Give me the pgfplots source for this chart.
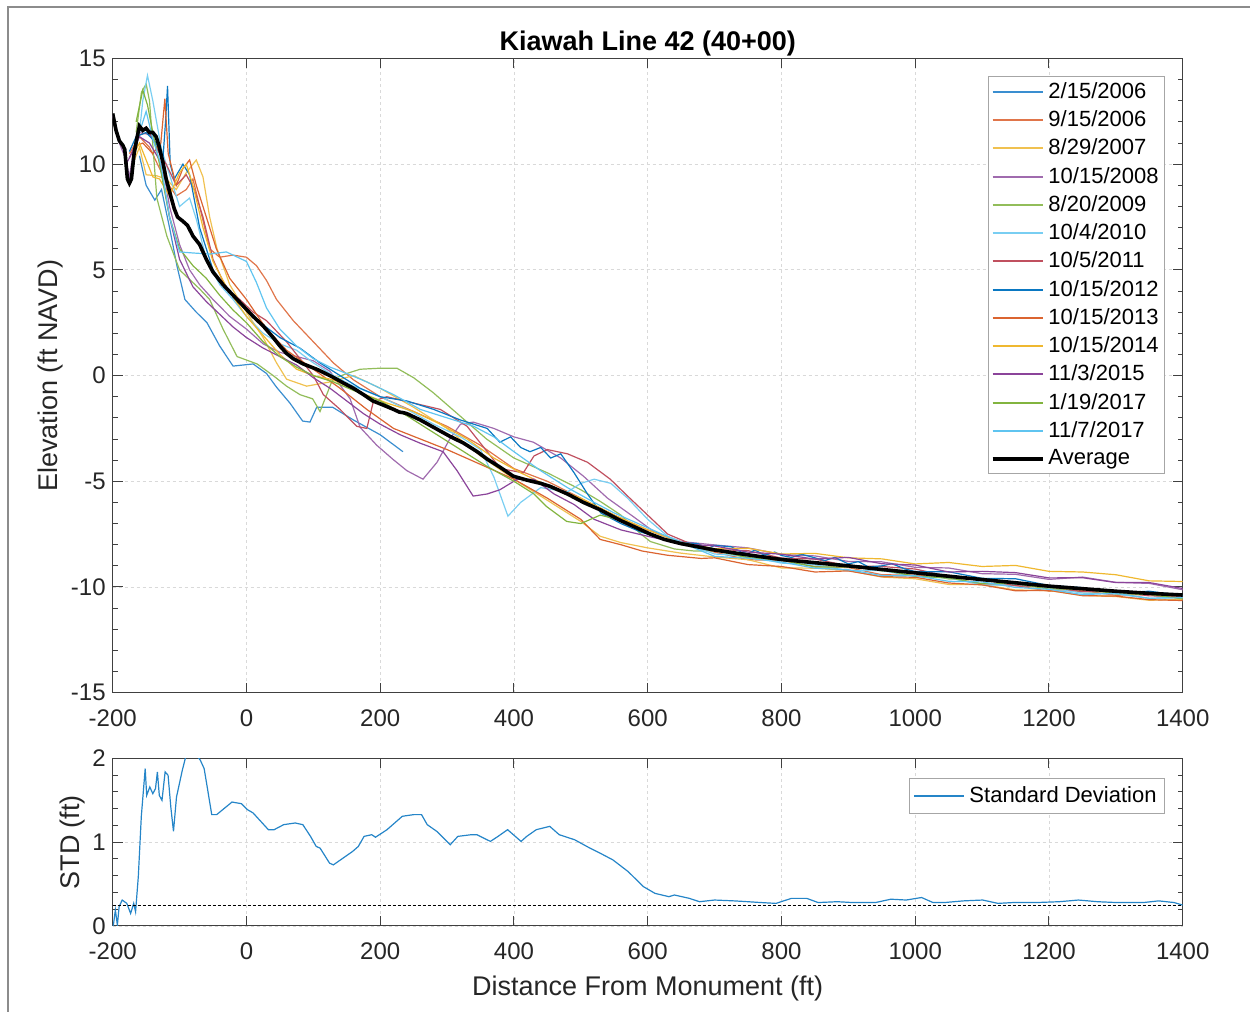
\documentclass[border=0pt]{standalone}
\usepackage{pgfplots}
\pgfplotsset{compat=1.18}
\usepackage{fontspec}
\setmainfont{Liberation Sans}
\definecolor{axgray}{HTML}{404040}
\definecolor{txtgray}{HTML}{262626}
\definecolor{kcA}{HTML}{3A8ED0}
\definecolor{kcB}{HTML}{E0754A}
\definecolor{kcC}{HTML}{F0C150}
\definecolor{kcD}{HTML}{A06BAE}
\definecolor{kcE}{HTML}{92BD5A}
\definecolor{kcF}{HTML}{79CEF2}
\definecolor{kcG}{HTML}{C0505F}
\definecolor{kcH}{HTML}{0A78C2}
\definecolor{kcI}{HTML}{DB6430}
\definecolor{kcJ}{HTML}{EFB830}
\definecolor{kcK}{HTML}{8B449A}
\definecolor{kcL}{HTML}{82B43F}
\definecolor{kcM}{HTML}{5FC4F0}
\definecolor{kcS}{HTML}{2585C8}
\pgfplotsset{
  ser/.style={line width=0.6pt, legend image post style={line width=1pt}},
  mlab/.style={
    scale only axis, width=535pt,
    xmin=-200, xmax=1400,
    xtick={-200,0,200,400,600,800,1000,1200,1400},
    xticklabels={-200,0,200,400,600,800,1000,1200,1400},
    xticklabel style={yshift=-5pt},
    tick align=inside,
    major tick length=5pt, minor tick length=2.5pt,
    grid=major,
    grid style={dash pattern=on 1.5pt off 1.5pt, color=gray!30, line width=0.4pt},
    axis line style={color=axgray, line width=0.5pt},
    tick style={color=axgray, line width=0.5pt},
    ticklabel style={font=\fontsize{12}{14}\selectfont, text=txtgray},
    label style={font=\fontsize{13.5}{16}\selectfont, text=txtgray},
    legend cell align=left,
    legend image code/.code={\draw[#1] (0pt,0pt) -- (25pt,0pt);},
    legend style={draw=gray!70, line width=0.5pt, font=\fontsize{11}{13}\selectfont,
      anchor=north east, inner xsep=1pt, inner ysep=1pt, row sep=0.65pt},
  },
}
\begin{document}
\begin{tikzpicture}
\path[use as bounding box] (0,0) rectangle (625pt,506pt);
\draw[color=gray!90, line width=0.9pt] (4pt,0pt) -- (4pt,502.5pt) -- (625pt,502.5pt);

\begin{axis}[mlab,
  at={(56.35pt,159.65pt)}, anchor=south west,
  height=317.1pt,
  ymin=-15, ymax=15,
  ytick={-15,-10,-5,0,5,10,15},
  yticklabels={-15,-10,-5,0,5,10,15},
  minor y tick num=4,
  ylabel={Elevation (ft NAVD)},
  ylabel style={at={(axis description cs:-0.0578,0.5)}, anchor=center},
  title={\textbf{Kiawah Line 42 (40+00)}},
  title style={font=\fontsize{13.5}{16}\selectfont, text=black, at={(axis description cs:0.5,1)}, anchor=center, yshift=1.5pt},
  legend style={at={(axis description cs:1,1)}, xshift=-8.8pt, yshift=-8.75pt},
]
\addplot[color=kcA, ser] coordinates {(-160,10.4) (-150,9.0) (-137,8.3) (-127,8.8) (-115,7.0) (-104,5.2) (-92,3.6) (-75,3.0) (-59,2.5) (-40,1.4) (-20,0.45) (10,0.55) (30,0.1) (45,-0.55) (65,-1.3) (84,-2.15) (95,-2.2) (105,-1.5) (129,-1.5) (160,-2.1) (200,-2.8) (234,-3.6)};
\addlegendentry{2/15/2006}
\addplot[color=kcB, ser] coordinates {(-175,10.5) (-160,11.3) (-145,10.8) (-130,9.8) (-120,9.2) (-105,8.5) (-90,8.8) (-80,9.3) (-70,8.0) (-55,6.0) (-40,5.6) (-20,5.7) (0,5.6) (15,5.2) (30,4.5) (45,3.6) (70,2.6) (100,1.6) (130,0.6) (160,-0.2) (200,-1.0) (250,-1.7) (300,-2.4) (350,-3.3) (400,-4.4) (450,-5.0) (500,-5.8) (550,-6.6) (600,-7.3) (650,-7.9) (700,-8.35) (750,-8.71) (800,-8.75) (850,-9.03) (900,-9.08) (950,-9.42) (1000,-9.44) (1050,-9.56) (1100,-9.86) (1150,-9.93) (1200,-10.2) (1250,-10.17) (1300,-10.39) (1350,-10.36) (1400,-10.55)};
\addlegendentry{9/15/2006}
\addplot[color=kcC, ser] coordinates {(-170,10.0) (-160,10.8) (-150,9.5) (-134,9.45) (-120,9.3) (-105,8.8) (-90,9.6) (-75,10.2) (-65,9.4) (-55,7.5) (-44,6.0) (-25,4.3) (0,3.0) (25,1.8) (45,0.6) (60,-0.17) (90,-0.5) (125,-0.3) (160,0.0) (200,-0.6) (250,-1.5) (300,-2.5) (350,-3.8) (400,-4.9) (450,-5.9) (500,-6.9) (529,-7.6) (560,-7.9) (600,-8.15) (650,-8.4) (700,-8.58) (750,-8.71) (800,-9.1) (850,-9.11) (900,-9.22) (950,-9.53) (1000,-9.61) (1050,-9.88) (1100,-9.89) (1150,-10.14) (1200,-10.17) (1250,-10.4) (1300,-10.45) (1350,-10.63) (1400,-10.58)};
\addlegendentry{8/29/2007}
\addplot[color=kcD, ser] coordinates {(-200,12.3) (-190,11.0) (-180,10.2) (-175,9.4) (-168,10.8) (-160,11.5) (-145,11.4) (-130,10.8) (-115,8.0) (-100,6.2) (-85,5.0) (-70,4.3) (-50,3.6) (-25,2.8) (0,2.2) (25,1.5) (50,1.1) (75,0.9) (100,0.7) (125,0.2) (155,-1.1) (170,-2.45) (195,-3.3) (219,-3.96) (240,-4.5) (264,-4.9) (285,-4.1) (304,-3.0) (320,-2.3) (339,-2.2) (370,-2.5) (400,-2.9) (429,-3.15) (470,-3.9) (504,-4.76) (540,-5.8) (578,-6.66) (610,-7.4) (650,-7.85) (700,-8.01) (750,-8.15) (800,-8.46) (850,-8.53) (900,-8.79) (950,-8.81) (1000,-9.07) (1050,-9.1) (1100,-9.37) (1150,-9.4) (1200,-9.64) (1250,-9.53) (1300,-9.78) (1350,-9.83) (1400,-10.13)};
\addlegendentry{10/15/2008}
\addplot[color=kcE, ser] coordinates {(-165,11.5) (-157,13.4) (-150,13.8) (-145,13.0) (-134,8.4) (-119,6.6) (-100,5.0) (-70,4.1) (-55,3.6) (-35,2.2) (-14,0.9) (16,0.55) (40,0.0) (60,-0.5) (80,-0.9) (99,-1.1) (110,-1.7) (120,-0.9) (129,-0.17) (150,0.1) (170,0.3) (200,0.35) (225,0.35) (250,-0.1) (279,-0.8) (319,-1.9) (359,-3.0) (400,-3.9) (450,-4.6) (500,-5.4) (529,-5.95) (560,-6.6) (590,-7.5) (604,-7.85) (640,-8.2) (670,-8.3) (700,-8.28) (750,-8.62) (800,-8.69) (850,-8.94) (900,-8.96) (950,-9.24) (1000,-9.33) (1050,-9.62) (1100,-9.6) (1150,-9.88) (1200,-9.94) (1250,-10.23) (1300,-10.21) (1350,-10.27) (1400,-10.49)};
\addlegendentry{8/20/2009}
\addplot[color=kcF, ser] coordinates {(-160,11.5) (-155,13.0) (-148,14.2) (-140,13.0) (-127,10.7) (-112,9.2) (-100,8.0) (-85,8.4) (-75,7.4) (-60,5.5) (-40,4.3) (-20,3.6) (0,2.8) (25,2.0) (50,1.5) (75,1.2) (100,0.6) (130,0.0) (160,-0.5) (200,-1.0) (240,-1.6) (280,-2.3) (320,-2.9) (350,-3.5) (370,-4.8) (391,-6.65) (410,-6.0) (440,-5.3) (480,-5.5) (500,-5.1) (520,-4.9) (545,-5.1) (570,-5.8) (600,-6.8) (630,-7.6) (660,-8.0) (700,-8.44) (750,-8.54) (800,-8.87) (850,-8.95) (900,-9.23) (950,-9.22) (1000,-9.51) (1050,-9.57) (1100,-9.9) (1150,-9.91) (1200,-10.03) (1250,-10.29) (1300,-10.33) (1350,-10.54) (1400,-10.47)};
\addlegendentry{10/4/2010}
\addplot[color=kcG, ser] coordinates {(-175,10.3) (-160,11.4) (-145,11.5) (-130,10.5) (-120,10.0) (-105,9.0) (-90,9.5) (-78,8.8) (-65,7.5) (-50,5.5) (-30,4.1) (-10,3.6) (10,3.0) (30,2.6) (60,1.6) (80,0.8) (100,0.0) (115,-0.9) (140,-1.6) (165,-2.4) (180,-2.5) (190,-1.2) (210,-1.0) (250,-1.3) (290,-1.6) (330,-2.4) (360,-3.6) (380,-4.4) (414,-4.6) (430,-3.8) (450,-3.5) (480,-3.7) (510,-4.1) (544,-4.9) (570,-5.7) (600,-6.6) (630,-7.5) (660,-7.9) (700,-8.23) (750,-8.28) (800,-8.63) (850,-8.68) (900,-9.0) (950,-9.03) (1000,-9.15) (1050,-9.5) (1100,-9.63) (1150,-9.94) (1200,-10.0) (1250,-10.22) (1300,-10.21) (1350,-10.42) (1400,-10.43)};
\addlegendentry{10/5/2011}
\addplot[color=kcH, ser] coordinates {(-175,10.6) (-165,11.3) (-150,11.5) (-135,11.0) (-125,10.2) (-121,12.0) (-118,13.7) (-114,10.0) (-108,9.3) (-95,10.0) (-85,9.5) (-70,7.0) (-50,5.0) (-25,3.9) (0,3.1) (25,2.4) (50,1.8) (80,1.3) (110,0.6) (140,0.0) (170,-0.6) (200,-1.0) (240,-1.2) (280,-1.6) (320,-2.1) (360,-2.5) (379,-3.15) (395,-2.9) (410,-3.4) (424,-3.6) (440,-3.4) (455,-3.9) (470,-3.7) (490,-4.6) (510,-5.6) (530,-6.5) (560,-7.0) (590,-7.4) (620,-7.7) (650,-7.9) (675,-7.95) (690,-8.2) (700,-8.03) (725,-8.1) (740,-8.35) (750,-8.43) (760,-8.25) (775,-8.5) (790,-8.35) (800,-8.51) (815,-8.6) (830,-8.45) (850,-8.62) (865,-8.75) (880,-8.6) (900,-8.91) (915,-8.8) (930,-9.05) (950,-9.0) (965,-8.9) (985,-9.15) (1000,-9.27) (1050,-9.28) (1100,-9.59) (1150,-9.61) (1200,-9.93) (1250,-10.03) (1300,-10.28) (1350,-10.2) (1400,-10.41)};
\addlegendentry{10/15/2012}
\addplot[color=kcI, ser] coordinates {(-170,10.8) (-155,11.0) (-140,10.5) (-128,11.0) (-122,13.1) (-117,10.5) (-105,9.0) (-95,9.8) (-85,10.2) (-75,9.0) (-60,7.5) (-45,6.0) (-25,4.6) (0,3.6) (30,2.2) (60,1.2) (100,0.3) (140,-0.6) (180,-1.6) (220,-2.5) (260,-3.0) (300,-3.5) (350,-4.2) (400,-4.9) (450,-5.8) (500,-6.8) (529,-7.75) (560,-8.0) (592,-8.3) (630,-8.5) (680,-8.65) (700,-8.62) (750,-8.94) (800,-9.03) (850,-9.29) (900,-9.24) (950,-9.51) (1000,-9.54) (1050,-9.81) (1100,-9.9) (1150,-10.18) (1200,-10.16) (1250,-10.41) (1300,-10.43) (1350,-10.6) (1400,-10.64)};
\addlegendentry{10/15/2013}
\addplot[color=kcJ, ser] coordinates {(-170,10.4) (-160,11.0) (-150,10.2) (-140,9.4) (-130,9.3) (-115,8.5) (-100,9.6) (-90,10.0) (-80,9.0) (-65,7.0) (-50,5.4) (-30,4.2) (0,2.8) (25,1.9) (50,1.0) (75,0.3) (100,0.0) (130,-0.2) (170,-0.8) (210,-1.3) (250,-1.7) (290,-2.3) (330,-3.0) (370,-3.9) (410,-4.6) (450,-5.2) (500,-5.8) (550,-6.6) (600,-7.3) (650,-7.9) (700,-8.19) (750,-8.17) (800,-8.44) (850,-8.41) (900,-8.62) (950,-8.67) (1000,-8.91) (1050,-8.84) (1100,-9.03) (1150,-8.98) (1200,-9.26) (1250,-9.29) (1300,-9.42) (1350,-9.71) (1400,-9.74)};
\addlegendentry{10/15/2014}
\addplot[color=kcK, ser] coordinates {(-180,10.0) (-170,10.6) (-160,11.3) (-145,11.0) (-130,10.2) (-115,7.5) (-100,5.5) (-80,4.2) (-60,3.5) (-40,2.9) (-20,2.3) (0,1.8) (25,1.3) (50,0.9) (75,0.5) (100,-0.1) (125,-0.6) (150,-1.2) (175,-1.8) (200,-2.3) (230,-2.8) (260,-3.2) (294,-3.6) (315,-4.5) (339,-5.7) (360,-5.6) (379,-5.4) (405,-4.9) (430,-4.9) (460,-5.6) (490,-6.1) (520,-6.8) (560,-7.3) (600,-7.6) (650,-7.95) (700,-8.06) (750,-8.35) (800,-8.45) (850,-8.68) (900,-8.6) (950,-8.9) (1000,-8.96) (1050,-9.29) (1100,-9.26) (1150,-9.32) (1200,-9.57) (1250,-9.56) (1300,-9.79) (1350,-9.79) (1400,-10.07)};
\addlegendentry{11/3/2015}
\addplot[color=kcL, ser] coordinates {(-165,12.0) (-155,13.5) (-148,12.8) (-140,11.5) (-130,10.0) (-115,7.5) (-100,6.0) (-80,5.2) (-60,4.6) (-40,3.8) (-20,3.1) (0,2.5) (25,1.6) (50,0.9) (75,0.4) (100,0.0) (130,-0.3) (160,-0.7) (200,-1.2) (240,-1.9) (280,-2.7) (320,-3.5) (360,-4.3) (400,-5.0) (430,-5.6) (449,-6.2) (479,-6.9) (500,-7.0) (529,-6.6) (555,-6.8) (580,-7.2) (610,-7.6) (650,-7.95) (700,-8.25) (750,-8.61) (800,-8.73) (850,-9.05) (900,-9.06) (950,-9.19) (1000,-9.49) (1050,-9.57) (1100,-9.84) (1150,-9.84) (1200,-10.1) (1250,-10.09) (1300,-10.32) (1350,-10.35) (1400,-10.56)};
\addlegendentry{1/19/2017}
\addplot[color=kcM, ser] coordinates {(-165,11.0) (-150,12.5) (-140,11.2) (-128,10.0) (-115,7.5) (-100,5.85) (-80,5.8) (-55,5.75) (-30,5.85) (0,5.4) (15,4.4) (30,3.2) (50,2.2) (75,1.4) (100,0.8) (125,0.4) (150,0.1) (180,-0.3) (220,-0.9) (260,-1.6) (300,-2.0) (340,-2.4) (370,-2.9) (400,-3.6) (440,-4.5) (480,-5.3) (520,-6.0) (550,-6.5) (600,-7.2) (650,-7.9) (700,-8.55) (750,-8.64) (800,-8.82) (850,-9.11) (900,-9.18) (950,-9.46) (1000,-9.47) (1050,-9.73) (1100,-9.76) (1150,-10.02) (1200,-10.11) (1250,-10.36) (1300,-10.3) (1350,-10.53) (1400,-10.51)};
\addlegendentry{11/7/2017}
\addplot[color=black, line width=1.8pt] coordinates {(-200,12.4) (-195,11.6) (-190,11.1) (-185,10.9) (-182,10.7) (-178,9.3) (-175,9.1) (-172,9.3) (-168,10.5) (-164,11.2) (-160,11.8) (-155,11.6) (-150,11.7) (-145,11.5) (-140,11.5) (-135,11.3) (-131,10.9) (-125,10.1) (-120,9.3) (-115,8.7) (-108,7.9) (-103,7.5) (-95,7.3) (-88,7.1) (-80,6.6) (-70,6.2) (-60,5.5) (-50,4.9) (-35,4.3) (-20,3.8) (-5,3.3) (10,2.8) (25,2.35) (40,1.8) (50,1.4) (60,1.05) (70,0.8) (85,0.55) (105,0.3) (115,0.15) (129,-0.07) (145,-0.35) (160,-0.6) (175,-0.9) (189,-1.2) (205,-1.4) (220,-1.6) (229,-1.73) (234,-1.75) (240,-1.8) (260,-2.1) (280,-2.45) (304,-2.87) (325,-3.2) (345,-3.6) (360,-3.95) (380,-4.35) (399,-4.76) (420,-4.95) (440,-5.1) (454,-5.24) (480,-5.6) (504,-6.0) (529,-6.35) (559,-6.85) (580,-7.15) (604,-7.5) (625,-7.75) (650,-7.95) (675,-8.1) (700,-8.25) (750,-8.48) (800,-8.7) (850,-8.85) (900,-9.0) (950,-9.17) (1000,-9.33) (1050,-9.49) (1100,-9.65) (1150,-9.8) (1200,-9.96) (1250,-10.08) (1300,-10.2) (1350,-10.3) (1400,-10.38)};
\addlegendentry{Average}
\end{axis}

\begin{axis}[mlab,
  at={(56.35pt,43pt)}, anchor=south west,
  height=83.75pt,
  ymin=0, ymax=2,
  ytick={0,1,2}, yticklabels={0,1,2},
  minor y tick num=4,
  ylabel={STD (ft)},
  ylabel style={at={(axis description cs:-0.0372,0.5)}, anchor=center},
  xlabel={Distance From Monument (ft)},
  xlabel style={at={(axis description cs:0.5,0)}, anchor=center, yshift=-31.5pt},
  legend style={at={(axis description cs:1,1)}, xshift=-8.8pt, yshift=-9.75pt, inner ysep=2pt, inner xsep=2pt},
]
\addplot[color=kcS, ser] coordinates {(-200,0.0) (-199,0.01) (-196,0.19) (-193,0.01) (-190.4,0.23) (-185.8,0.31) (-178.9,0.27) (-173.2,0.15) (-168.6,0.27) (-165.8,0.17) (-161.7,0.59) (-157.2,1.31) (-151.4,1.88) (-149.2,1.56) (-144.5,1.66) (-140,1.58) (-136,1.64) (-133.2,1.84) (-130.3,1.56) (-126.3,1.5) (-121.6,1.84) (-117.2,1.80) (-113.1,1.42) (-109.1,1.13) (-104.6,1.54) (-95.9,1.86) (-90.2,2.04) (-75.9,2.05) (-69,1.98) (-63.3,1.88) (-58.7,1.66) (-51.9,1.33) (-44.5,1.33) (-21.6,1.48) (-7.3,1.46) (1.3,1.39) (9.9,1.35) (32.8,1.15) (41.4,1.15) (55.7,1.21) (72.9,1.23) (84.3,1.21) (95.8,1.07) (104.3,0.95) (110.1,0.93) (124.3,0.75) (130,0.73) (158.7,0.89) (167.3,0.95) (175.9,1.07) (187.3,1.09) (193,1.06) (210.2,1.15) (233.1,1.31) (250.2,1.33) (261.8,1.33) (270.3,1.21) (284.6,1.13) (304.7,0.97) (316.1,1.07) (336.1,1.09) (344.7,1.09) (364.8,1.01) (376.2,1.07) (390.5,1.15) (410.6,1.01) (419.1,1.07) (433.4,1.15) (453.5,1.19) (467.7,1.09) (490.7,1.03) (513.6,0.93) (528.7,0.87) (547.8,0.79) (570.7,0.65) (593.6,0.47) (610.8,0.39) (631.7,0.35) (640,0.37) (662.3,0.33) (677.5,0.29) (700,0.31) (728.9,0.30) (750,0.29) (769,0.28) (791.9,0.27) (814.9,0.33) (837.8,0.33) (854.8,0.28) (883.5,0.29) (906.4,0.28) (940.6,0.28) (963.6,0.32) (986.5,0.31) (1009.5,0.34) (1026.6,0.28) (1043.7,0.28) (1072.4,0.30) (1100.9,0.31) (1123.8,0.27) (1146.7,0.28) (1181.1,0.28) (1215.4,0.29) (1244,0.31) (1272.6,0.29) (1301.2,0.28) (1341.2,0.28) (1364.1,0.30) (1387,0.28) (1400,0.25)};
\addlegendentry{Standard Deviation}
\addplot[color=black, line width=0.5pt, dash pattern=on 1.5pt off 1pt, forget plot] coordinates {(-200,0.25) (1400,0.25)};
\end{axis}
\end{tikzpicture}
\end{document}
